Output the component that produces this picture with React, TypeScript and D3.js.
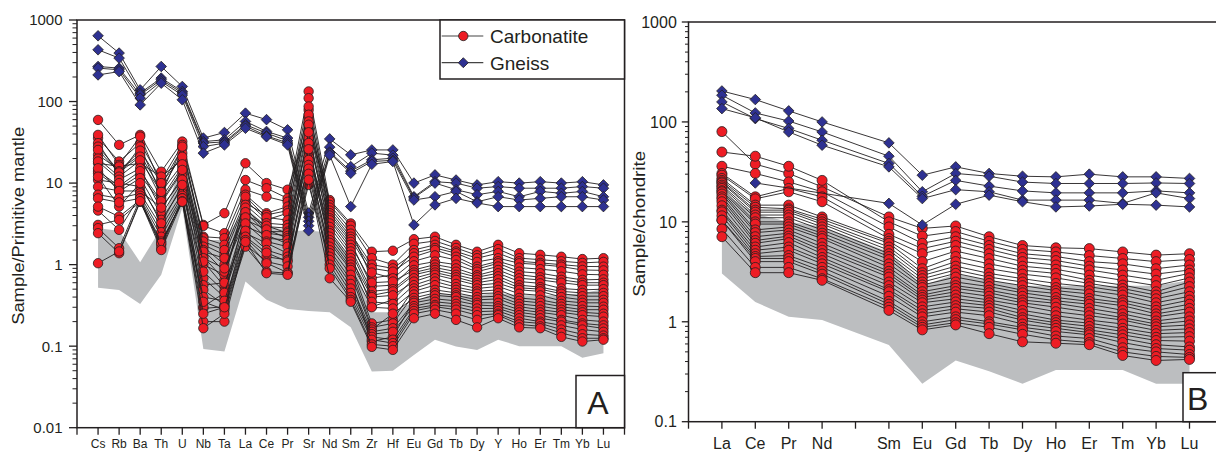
import React from 'react';
import * as d3 from 'd3';

// ---------- Panel A: primitive-mantle normalised ----------
const pmElements = ['Cs', 'Rb', 'Ba', 'Th', 'U', 'Nb', 'Ta', 'La', 'Ce', 'Pr', 'Sr', 'Nd', 'Sm', 'Zr', 'Hf', 'Eu', 'Gd', 'Tb', 'Dy', 'Y', 'Ho', 'Er', 'Tm', 'Yb', 'Lu'];

// carbonatite samples, one column per element (24 samples)
const pmCarbonatite: number[][] = [
  [59.5, 35.6, 39, 22.2, 17.5, 30.9, 28, 25.5, 20, 13.2, 18.4, 14, 15.2, 10.9, 9, 7.2, 12, 4.6, 6.5, 5.15, 3.07, 2.8, 2.43, 1.04], // Cs
  [29.4, 18.4, 16.7, 14.5, 16, 12.6, 14, 13.5, 12, 8.65, 11, 9.2, 7.9, 10, 8, 6.5, 5.15, 2.67, 5.8, 3.88, 3.54, 1.59, 1.38, 1.45], // Rb
  [39, 30.9, 37.2, 22.2, 17.5, 28, 25, 21.1, 19, 12.6, 15.2, 14, 11.5, 9.06, 8, 7.5, 10, 7, 6.5, 6.2, 5.9, 6.5, 5.9, 6.0], // Ba
  [13.8, 10.9, 9.5, 8.3, 12, 7.2, 10, 6.5, 7.8, 5.7, 4.7, 6, 4.07, 3.54, 5, 2.93, 3.2, 2.5, 2.2, 1.92, 1.75, 1.59, 1.83, 1.51], // Th
  [32.3, 29.4, 26.8, 23.3, 19.2, 28, 21, 15.9, 17, 13.8, 12, 14.5, 10.4, 8.65, 11, 7.5, 9.5, 7, 6.5, 5.9, 6.2, 6.5, 6.0, 5.9], // U
  [3.07, 2.98, 2.2, 2.11, 1.75, 1.92, 1.25, 1.66, 1.0, 1.51, 1.44, 0.68, 1.2, 1.09, 0.29, 0.82, 0.56, 0.305, 0.49, 0.4, 0.35, 0.2, 0.166, 0.25], // Nb
  [4.27, 2.43, 2.11, 1.75, 1.32, 1.51, 0.65, 1.0, 0.75, 0.82, 1.2, 0.4, 0.9, 0.54, 0.305, 0.47, 0.6, 0.45, 0.32, 0.36, 0.28, 0.2, 0.25, 0.3], // Ta
  [17.5, 10.9, 8.3, 7.2, 5.66, 6.2, 6.8, 5.4, 4.7, 5.0, 4.07, 4.4, 3.54, 3.8, 2.93, 3.2, 2.43, 2.6, 2.11, 2.2, 1.75, 2.0, 1.66, 1.9], // La
  [10, 8.65, 6.8, 4.27, 4.07, 3.54, 3.8, 3.22, 2.93, 2.54, 3.0, 2.43, 2.7, 2.11, 2.3, 1.92, 1.83, 1.51, 1.25, 1.4, 1.09, 1.04, 0.82, 0.785], // Ce
  [8.3, 6.5, 5.9, 5.15, 4.6, 4.27, 3.5, 3.07, 2.8, 2.54, 2.43, 2.25, 2.11, 2.0, 1.8, 1.66, 1.38, 1.25, 1.14, 1.09, 0.95, 0.8, 0.785, 0.75], // Pr
  [47, 133, 79, 110, 63, 87, 69, 57, 38, 52, 35.6, 23.3, 42, 28, 21, 31, 26, 18, 19.2, 16.7, 9.5, 15, 13, 11], // Sr
  [6.2, 5.9, 5.4, 5.0, 4.6, 4.27, 4.0, 3.7, 3.5, 3.2, 2.9, 2.6, 2.43, 2.2, 2.0, 1.85, 1.66, 1.5, 1.38, 1.25, 1.14, 1.0, 0.9, 0.68], // Nd
  [3.2, 3.0, 2.67, 2.4, 2.2, 2.05, 1.9, 1.75, 1.59, 1.45, 1.32, 1.2, 1.09, 1.0, 0.92, 0.86, 0.75, 0.65, 0.58, 0.51, 0.45, 0.4, 0.37, 0.35], // Sm
  [1.44, 1.2, 0.68, 1.0, 0.9, 0.8, 0.54, 0.6, 0.47, 0.42, 0.305, 0.4, 0.35, 0.19, 0.3, 0.17, 0.16, 0.114, 0.15, 0.14, 0.13, 0.12, 0.105, 0.098], // Zr
  [1.48, 1.0, 0.75, 0.9, 0.82, 0.68, 0.56, 0.62, 0.5, 0.47, 0.37, 0.42, 0.33, 0.21, 0.29, 0.19, 0.25, 0.13, 0.166, 0.15, 0.12, 0.109, 0.1, 0.09], // Hf
  [2.05, 1.8, 1.51, 1.38, 1.25, 1.1, 0.98, 0.86, 0.8, 0.75, 0.68, 0.62, 0.56, 0.51, 0.47, 0.43, 0.39, 0.36, 0.34, 0.31, 0.29, 0.27, 0.25, 0.22], // Eu
  [2.2, 1.95, 1.75, 1.6, 1.51, 1.3, 1.09, 1.0, 0.92, 0.86, 0.8, 0.75, 0.68, 0.62, 0.56, 0.49, 0.45, 0.42, 0.38, 0.35, 0.32, 0.305, 0.28, 0.25], // Gd
  [1.75, 1.6, 1.45, 1.38, 1.25, 1.14, 1.0, 0.9, 0.82, 0.75, 0.7, 0.65, 0.58, 0.53, 0.49, 0.45, 0.42, 0.4, 0.36, 0.33, 0.305, 0.28, 0.25, 0.21], // Tb
  [1.44, 1.3, 1.2, 1.08, 0.945, 0.88, 0.82, 0.74, 0.7, 0.65, 0.6, 0.56, 0.51, 0.47, 0.44, 0.4, 0.37, 0.34, 0.32, 0.29, 0.265, 0.24, 0.21, 0.17], // Dy
  [1.75, 1.55, 1.38, 1.2, 1.1, 1.04, 0.95, 0.86, 0.785, 0.72, 0.66, 0.59, 0.54, 0.49, 0.45, 0.41, 0.38, 0.34, 0.31, 0.29, 0.27, 0.25, 0.24, 0.22], // Y
  [1.38, 1.2, 1.1, 1.04, 0.92, 0.82, 0.75, 0.68, 0.62, 0.56, 0.52, 0.49, 0.44, 0.39, 0.36, 0.33, 0.305, 0.28, 0.26, 0.24, 0.22, 0.2, 0.185, 0.17], // Ho
  [1.32, 1.15, 1.05, 1.0, 0.88, 0.785, 0.7, 0.65, 0.59, 0.53, 0.5, 0.47, 0.42, 0.37, 0.34, 0.31, 0.28, 0.26, 0.24, 0.22, 0.2, 0.19, 0.175, 0.166], // Er
  [1.25, 1.1, 1.0, 0.945, 0.83, 0.71, 0.65, 0.6, 0.51, 0.47, 0.44, 0.4, 0.36, 0.33, 0.305, 0.28, 0.26, 0.24, 0.21, 0.2, 0.18, 0.16, 0.145, 0.13], // Tm
  [1.17, 1.05, 0.95, 0.86, 0.76, 0.65, 0.6, 0.56, 0.49, 0.45, 0.41, 0.37, 0.34, 0.31, 0.28, 0.26, 0.24, 0.21, 0.19, 0.18, 0.16, 0.14, 0.125, 0.114], // Yb
  [1.2, 1.08, 0.945, 0.85, 0.75, 0.66, 0.6, 0.56, 0.5, 0.45, 0.41, 0.37, 0.34, 0.305, 0.28, 0.25, 0.23, 0.2, 0.18, 0.165, 0.15, 0.135, 0.125, 0.12], // Lu
];

// gneiss samples, one row per sample
const pmGneiss: (number | null)[][] = [
  [640, 393, 139, 269, 153, 35.6, 41.7, 72, 60, 45, 4.3, 34.8, 22.2, 25.5, 25.5, 10, 12.6, 10.9, 9.5, 10.4, 10, 10.4, 10, 10.4, 9.5],
  [431, 341, 127, 194, 133, 32.3, 33.9, 57, 43, 35.6, 3.8, 27.6, 15.9, 23.3, 22, 6.8, 10.4, 10, 8.65, 9.06, 8.65, 8.65, 8.65, 9.06, 8.65],
  [269, 257, 121, 185, 127, 30.9, 32, 52, 41, 33, 3.4, 24, 14, 19.3, 20.2, 6.6, 10, 8.3, 7.2, 7.9, 6.8, 7.9, 7.5, 7.9, 6.8],
  [257, 245, 110, 176, 120, 28, 30.9, 50, 38, 31, 3.0, 23.3, 13.2, 18.4, 19, 6.2, 6.8, 7.9, 5.9, 6.8, 6.2, 6.5, 6.8, 6.8, 6.2],
  [212, 233, 91, 168, 105, 23.3, 29.4, 47, 37, 29.4, 2.6, 22, 5.15, 17, 18.4, 3.07, 5.4, 6.5, 5.7, 5.15, 5.15, 5.15, 5.15, 5.15, 5.15],
];

const pmFieldLow = [0.52, 0.49, 0.33, 0.75, 5, 0.092, 0.086, 0.62, 0.37, 0.285, 0.27, 0.26, 0.17, 0.049, 0.05, 0.078, 0.12, 0.099, 0.09, 0.12, 0.1, 0.1, 0.1, 0.072, 0.082];
const pmFieldHigh = [2.8, 2.6, 1.07, 2.8, 20, 2, 2, 5, 3, 2.6, 2.6, 2.5, 1.2, 0.26, 0.26, 0.35, 0.45, 0.42, 0.42, 0.45, 0.42, 0.42, 0.42, 0.45, 0.5];
const pmYTicks = [0.01, 0.1, 1, 10, 100, 1000];

// ---------- Panel B: chondrite normalised REE ----------
const reePositions = ['La', 'Ce', 'Pr', 'Nd', 'Pm', 'Sm', 'Eu', 'Gd', 'Tb', 'Dy', 'Ho', 'Er', 'Tm', 'Yb', 'Lu'];
const reeElements = ['La', 'Ce', 'Pr', 'Nd', 'Sm', 'Eu', 'Gd', 'Tb', 'Dy', 'Ho', 'Er', 'Tm', 'Yb', 'Lu'];

const reeCarbonatite: number[][] = [
  [80, 50, 36, 30.5, 29.3, 27.2, 26, 25.1, 24.5, 23.3, 22.4, 21.6, 20.5, 20, 19, 17.8, 17, 15.9, 14.5, 13.1, 12.6, 11.5, 10.4, 10.4, 8.5, 7.1], // La
  [37.8, 45.4, 30.5, 17.8, 17, 14.7, 14, 13.1, 12.5, 11.7, 11, 10, 9.5, 8.3, 7.8, 7.1, 6.5, 6.1, 5.6, 5.2, 4.8, 4.5, 4.3, 4.0, 3.5, 3.1], // Ce
  [30.5, 36, 25.1, 21.6, 20, 14.7, 13.5, 13.1, 12.5, 11.7, 11, 10, 9.5, 8.9, 8.3, 7.7, 7.2, 6.8, 6.2, 5.6, 5.2, 4.6, 4.3, 4.0, 3.5, 3.1], // Pr
  [22.4, 26, 20, 17.8, 15.9, 11.2, 10.6, 10, 9.5, 8.9, 8.3, 7.7, 7.2, 6.8, 6.1, 5.6, 5.2, 4.8, 4.4, 4.1, 3.8, 3.5, 3.2, 3.0, 2.7, 2.6], // Nd
  [11.2, 10, 8.9, 7.5, 6.8, 6.4, 6.1, 5.6, 5.2, 4.8, 4.5, 4.2, 3.8, 3.5, 3.2, 3.0, 2.8, 2.5, 2.3, 2.1, 2.0, 1.8, 1.6, 1.5, 1.4, 1.3], // Sm
  [8.6, 7.2, 6.1, 5.4, 4.8, 4.0, 3.4, 3.1, 2.9, 2.7, 2.5, 2.33, 2.2, 2.0, 1.85, 1.75, 1.65, 1.55, 1.41, 1.3, 1.2, 1.12, 1.0, 0.93, 0.88, 0.83], // Eu
  [9.1, 8.0, 7.1, 6.4, 5.8, 5.1, 4.5, 4.0, 3.6, 3.3, 3.05, 2.8, 2.5, 2.3, 2.16, 2.0, 1.85, 1.7, 1.58, 1.45, 1.35, 1.25, 1.12, 1.05, 0.98, 0.93], // Gd
  [7.1, 6.4, 5.8, 5.3, 4.8, 4.3, 3.8, 3.4, 3.05, 2.8, 2.6, 2.42, 2.25, 2.07, 1.95, 1.8, 1.65, 1.55, 1.45, 1.36, 1.25, 1.15, 1.0, 0.95, 0.88, 0.76], // Tb
  [5.8, 5.3, 4.8, 4.4, 4.0, 3.6, 3.28, 3.0, 2.7, 2.5, 2.3, 2.07, 1.95, 1.8, 1.65, 1.55, 1.45, 1.3, 1.2, 1.1, 1.04, 0.95, 0.88, 0.83, 0.75, 0.63], // Dy
  [5.5, 5.0, 4.5, 4.1, 3.7, 3.35, 3.05, 2.75, 2.42, 2.2, 2.05, 1.92, 1.75, 1.62, 1.53, 1.4, 1.26, 1.15, 1.04, 0.98, 0.92, 0.86, 0.8, 0.72, 0.66, 0.61], // Ho
  [5.4, 4.6, 4.0, 3.6, 3.3, 2.93, 2.6, 2.42, 2.24, 2.05, 1.9, 1.71, 1.6, 1.5, 1.36, 1.25, 1.15, 1.04, 0.97, 0.9, 0.83, 0.78, 0.74, 0.68, 0.62, 0.59], // Er
  [5.0, 4.3, 3.8, 3.3, 2.93, 2.6, 2.33, 2.15, 2.0, 1.85, 1.65, 1.55, 1.45, 1.3, 1.2, 1.1, 1.04, 0.95, 0.86, 0.8, 0.74, 0.68, 0.62, 0.55, 0.5, 0.46], // Tm
  [4.65, 4.0, 3.4, 3.0, 2.6, 2.3, 2.0, 1.85, 1.7, 1.55, 1.41, 1.3, 1.2, 1.12, 1.02, 0.95, 0.89, 0.82, 0.76, 0.7, 0.65, 0.59, 0.54, 0.5, 0.45, 0.41], // Yb
  [4.8, 4.2, 3.7, 3.3, 3.05, 2.75, 2.5, 2.25, 2.0, 1.8, 1.65, 1.5, 1.36, 1.25, 1.12, 1.02, 0.93, 0.85, 0.78, 0.71, 0.64, 0.56, 0.52, 0.47, 0.44, 0.42], // Lu
];

const reeGneiss: (number | null)[][] = [
  [204, 167.5, 129, 100, 61.7, 29.3, 35.5, 30.5, 28.6, 28.2, 30, 28.2, 28.2, 27.2],
  [185, 123, 102, 79.4, 45.4, 20, 30.5, 28.6, 25, 24.2, 24.2, 24.2, 24.5, 24.2],
  [158.5, 108, 86, 65.6, 38.4, 18, 26, 22.8, 20.4, 19.5, 19.5, 19.5, 20.4, 19.5],
  [136, 110, 79.4, 58.5, 35.5, 17.1, 21, 20, 16.5, 16.5, 16.5, 15.3, 19.5, 17.1],
  [null, 24.5, null, null, 15.3, 9.3, 15, 18.5, 15.9, 14.1, 14.4, 15, 14.7, 14.1],
];

const reeFieldLow = [3.05, 1.58, 1.12, 1.04, 0.585, 0.24, 0.41, 0.32, 0.24, 0.33, 0.33, 0.33, 0.24, 0.24];
const reeFieldHigh = [20, 12, 10, 9, 5, 2.3, 3, 2.6, 2.3, 2.3, 2.3, 2.3, 2.3, 2.6];
const reeYTicks = [0.1, 1, 10, 100, 1000];

const FONT = '"Liberation Sans", Arial, Helvetica, sans-serif';
const INK = '#231f20';
const RED = '#ed1c24';
const BLUE = '#2e3192';
const FIELD = '#bcbec0';

const transpose = (cols: number[][]) => cols[0].map((_, i) => cols.map(c => c[i]));

function Panel(props: any) {
  const { positions, elements, carb, gneiss, fieldLow, fieldHigh, yTicks, frame, yTitle, titleX, titleLen,
    majorLen, minorLen, yLabelFont, labelGap, xLabelFont, xLabelY, r, dr } = props;
  const { x0, x1, y0, y1 } = frame;

  const x = d3.scalePoint<string>().domain(['_s', ...positions, '_e']).range([x0, x1]);
  const y = d3.scaleLog().domain([yTicks[0], yTicks[yTicks.length - 1]]).range([y1, y0]);

  const minor: number[] = [];
  for (let i = 0; i < yTicks.length - 1; i++) {
    for (let m = 2; m <= 9; m++) minor.push(m * yTicks[i]);
  }

  const line = d3.line<[number, number]>().x(d => d[0]).y(d => d[1]);
  const area = d3.area<number>()
    .x(i => x(elements[i])!)
    .y0(i => y(fieldLow[i]))
    .y1(i => y(fieldHigh[i]));

  const toPts = (row: (number | null)[]) =>
    row.map((v, i) => (v == null ? null : [x(elements[i])!, y(v)] as [number, number]))
      .filter(p => p !== null) as [number, number][];

  const diamond = (cx: number, cy: number) =>
    `M${cx},${cy - dr}L${cx + dr},${cy}L${cx},${cy + dr}L${cx - dr},${cy}Z`;

  return (
    <g>
      <path d={area(d3.range(elements.length)) || ''} fill={FIELD} />

      {carb.map((row: number[], k: number) => {
        const pts = toPts(row);
        return (
          <g key={'c' + k}>
            <path d={line(pts) || ''} fill="none" stroke={INK} strokeWidth={0.9} />
            {pts.map((p, i) => (
              <circle key={i} cx={p[0]} cy={p[1]} r={r} fill={RED} stroke={INK} strokeWidth={0.8} />
            ))}
          </g>
        );
      })}

      {gneiss.map((row: (number | null)[], k: number) => {
        const pts = toPts(row);
        return (
          <g key={'g' + k}>
            <path d={line(pts) || ''} fill="none" stroke={INK} strokeWidth={0.9} />
            {pts.map((p, i) => (
              <path key={i} d={diamond(p[0], p[1])} fill={BLUE} stroke={INK} strokeWidth={0.8} />
            ))}
          </g>
        );
      })}

      {/* frame */}
      <rect x={x0} y={y0} width={x1 - x0} height={y1 - y0} fill="none" stroke={INK} strokeWidth={1.5} />

      {/* y ticks */}
      {yTicks.map((t: number) => (
        <g key={'yt' + t}>
          <line x1={x0 - majorLen} x2={x0} y1={y(t)} y2={y(t)} stroke={INK} strokeWidth={1.3} />
          <text x={x0 - majorLen - labelGap} y={y(t)} dy="0.36em" textAnchor="end"
            fontFamily={FONT} fontSize={yLabelFont} fill={INK}>{String(t)}</text>
        </g>
      ))}
      {minor.map(t => (
        <line key={'ym' + t} x1={x0 - minorLen} x2={x0} y1={y(t)} y2={y(t)} stroke={INK} strokeWidth={1} />
      ))}

      {/* x ticks */}
      {x.domain().map(k => (
        <line key={'xt' + k} x1={x(k)} x2={x(k)} y1={y1} y2={y1 + 7} stroke={INK} strokeWidth={1.3} />
      ))}
      {positions.filter((p: string) => elements.includes(p)).map((p: string) => (
        <text key={'xl' + p} x={x(p)} y={xLabelY} textAnchor="middle" fontFamily={FONT}
          fontSize={xLabelFont} fill={INK}>{p}</text>
      ))}

      <text transform={`translate(${titleX},${(y0 + y1) / 2 + 2}) rotate(-90)`} textAnchor="middle"
        fontFamily={FONT} fontSize={16} fill={INK} textLength={titleLen} lengthAdjust="spacingAndGlyphs">{yTitle}</text>
    </g>
  );
}

export default function App() {
  const pmRows = transpose(pmCarbonatite);
  const reeRows = transpose(reeCarbonatite);
  const legendX = 440;
  return (
    <svg width={1216} height={453} style={{ position: 'absolute', left: 0, top: 0, background: '#fff' }}>
      <rect width={1216} height={453} fill="#fff" />
      <Panel
        positions={pmElements} elements={pmElements} carb={pmRows} gneiss={pmGneiss}
        fieldLow={pmFieldLow} fieldHigh={pmFieldHigh} yTicks={pmYTicks}
        frame={{ x0: 77, x1: 624.5, y0: 20, y1: 427.7 }}
        yTitle="Sample/Primitive mantle" titleX={24} titleLen={198}
        majorLen={8} minorLen={4.5} yLabelFont={15} labelGap={6.5}
        xLabelFont={12} xLabelY={448} r={4.7} dr={5.3}
      />
      <Panel
        positions={reePositions} elements={reeElements} carb={reeRows} gneiss={reeGneiss}
        fieldLow={reeFieldLow} fieldHigh={reeFieldHigh} yTicks={reeYTicks}
        frame={{ x0: 688.5, x1: 1222.9, y0: 22, y1: 421.7 }}
        yTitle="Sample/chondrite" titleX={644.5} titleLen={146}
        majorLen={6.7} minorLen={3.5} yLabelFont={16} labelGap={5}
        xLabelFont={16} xLabelY={449} r={5} dr={5.3}
      />

      {/* legend */}
      <rect x={legendX} y={20} width={624.5 - legendX} height={59} fill="#fff" stroke={INK} strokeWidth={1.5} />
      <line x1={441.7} x2={483.3} y1={36} y2={36} stroke="#444" strokeWidth={1.2} />
      <circle cx={463.3} cy={36} r={4.7} fill={RED} stroke={INK} strokeWidth={0.8} />
      <text x={490} y={42.8} fontFamily={FONT} fontSize={19} fill={INK}>Carbonatite</text>
      <line x1={441.7} x2={483.3} y1={62.7} y2={62.7} stroke="#444" strokeWidth={1.2} />
      <path d={`M463.3,${62.7 - 5}L${463.3 + 5},62.7L463.3,${62.7 + 5}L${463.3 - 5},62.7Z`} fill={BLUE} stroke={INK} strokeWidth={0.8} />
      <text x={490} y={69.5} fontFamily={FONT} fontSize={19} fill={INK}>Gneiss</text>

      {/* panel letters */}
      <rect x={576} y={375.5} width={48.5} height={52.2} fill="#fff" stroke={INK} strokeWidth={1.5} />
      <text x={598} y={413.5} textAnchor="middle" fontFamily={FONT} fontSize={32} fill={INK}>A</text>
      <rect x={1183} y={372.7} width={60} height={49} fill="#fff" stroke={INK} strokeWidth={1.5} />
      <text x={1187} y={410} fontFamily={FONT} fontSize={32} fill={INK}>B</text>
    </svg>
  );
}
